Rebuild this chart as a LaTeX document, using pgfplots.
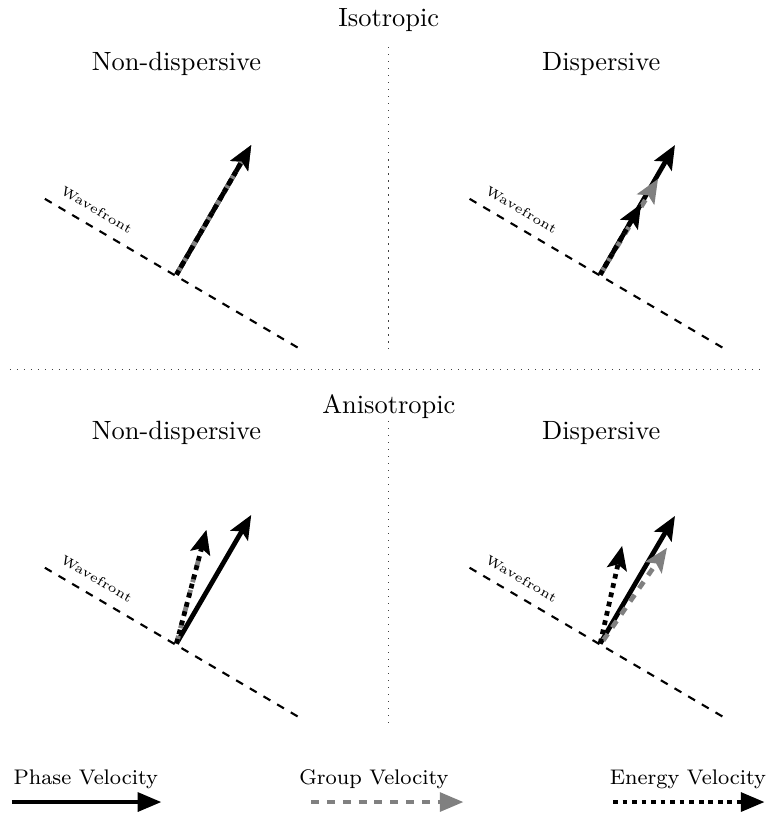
\documentclass[border=0pt]{standalone}
\usepackage{pgfplots}
\pgfplotsset{compat=1.18}
\usetikzlibrary{arrows.meta}
\begin{document}
\begin{tikzpicture}
\begin{axis}[
  width=292.1pt, height=307.2pt, scale only axis,
  xmin=0, xmax=774, ymin=0, ymax=814, y dir=reverse,
  hide axis, clip=false,
  head/.style={-{Stealth[length=9pt,width=7.5pt,inset=1.8pt]}},
  phase/.style={line width=1.8pt, black, head},
  group/.style={line width=1.8pt, gray, dash pattern=on 3pt off 3pt, head},
  energy/.style={line width=1.8pt, black, dash pattern=on 1.8pt off 1.8pt, head},
  wave/.style={thick, black, dash pattern=on 3pt off 3pt},
  sep/.style={thin, black!75, dash pattern=on 0.45pt off 2.2pt},
]
% invisible frame for the bounding box
\addplot[draw=none] coordinates {(0,0) (774,814)};

% separators
\addplot[sep] coordinates {(390,45) (390,348)};
\addplot[sep] coordinates {(390,420) (390,722)};
\addplot[sep] coordinates {(10,368) (766,368)};

% titles
\node at (axis cs:390,18) {Isotropic};
\node at (axis cs:177,62) {Non-dispersive};
\node at (axis cs:603,62) {Dispersive};
\node at (axis cs:390,405) {Anisotropic};
\node at (axis cs:177,432) {Non-dispersive};
\node at (axis cs:603,432) {Dispersive};

% wavefronts
\addplot[wave] coordinates {(45,197) (300,347)};
\addplot[wave] coordinates {(471,197) (726,347)};
\addplot[wave] coordinates {(45,567) (300,717)};
\addplot[wave] coordinates {(471,567) (726,717)};
\node[rotate=-30.5] at (axis cs:97,208) {\tiny Wavefront};
\node[rotate=-30.5] at (axis cs:523,208) {\tiny Wavefront};
\node[rotate=-30.5] at (axis cs:97,578) {\tiny Wavefront};
\node[rotate=-30.5] at (axis cs:523,578) {\tiny Wavefront};

% Isotropic, non-dispersive
\addplot[phase] coordinates {(177,273) (252,143)};
\addplot[group] coordinates {(177,273) (252,143)};
\addplot[energy] coordinates {(177,273) (252,143)};

% Isotropic, dispersive
\addplot[phase] coordinates {(602,273) (677,143)};
\addplot[group] coordinates {(602,273) (660,177)};
\addplot[energy] coordinates {(602,273) (643,202)};

% Anisotropic, non-dispersive
\addplot[phase] coordinates {(177,643) (252,514)};
\addplot[group] coordinates {(177,643) (207,529)};
\addplot[energy] coordinates {(177,643) (207,529)};

% Anisotropic, dispersive
\addplot[phase] coordinates {(602,643) (677,515)};
\addplot[group] coordinates {(605,640) (669,547)};
\addplot[energy] coordinates {(602,643) (624,545)};

% legend
\node at (axis cs:86,779) {\footnotesize Phase Velocity};
\node at (axis cs:375,779) {\footnotesize Group Velocity};
\node at (axis cs:690,779) {\footnotesize Energy Velocity};
\addplot[line width=1.7pt, black, -{Triangle[length=9pt,width=7pt]}] coordinates {(12,802) (162,802)};
\addplot[line width=1.7pt, gray, dash pattern=on 3pt off 3pt, -{Triangle[length=9pt,width=7pt]}] coordinates {(312,802) (465,802)};
\addplot[line width=1.7pt, black, dash pattern=on 1.8pt off 1.8pt, -{Triangle[length=9pt,width=7pt]}] coordinates {(615,802) (767,802)};
\end{axis}
\end{tikzpicture}
\end{document}
